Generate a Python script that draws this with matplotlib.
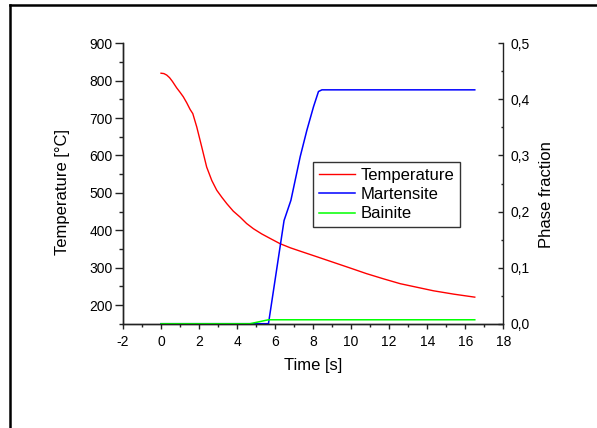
import matplotlib
matplotlib.use("Agg")
import matplotlib.pyplot as plt
from matplotlib.lines import Line2D
from matplotlib.ticker import MultipleLocator, FixedLocator, FixedFormatter

plt.rcParams['font.family'] = ['Liberation Sans', 'DejaVu Sans']
plt.rcParams['axes.unicode_minus'] = False

# ---- data ----
time_temp = [0, 0.15, 0.3, 0.45, 0.6, 0.82, 1.0, 1.17, 1.35, 1.53, 1.67, 1.88, 2.14,
             2.4, 2.67, 2.93, 3.2, 3.46, 3.8, 4.16, 4.5, 4.86, 5.3, 5.74, 6.26,
             6.8, 7.32, 8.2, 9.07, 10.0, 10.8, 11.7, 12.58, 13.5, 14.33, 15.4, 16.5]
temperature = [820, 819, 815, 808, 798, 781, 769, 757, 741, 723, 712, 676, 623,
               569, 533, 507, 488, 471, 451, 435, 418, 404, 390, 378, 364,
               353, 344, 329, 314, 298, 284, 270, 257, 247, 238, 229, 221]

time_mart = [0, 5.65, 6.47, 6.83, 7.32, 7.67, 8.02, 8.28, 8.46, 16.5]
martensite = [0, 0, 0.184, 0.22, 0.298, 0.345, 0.387, 0.414, 0.417, 0.417]

time_bain = [0, 4.68, 5.65, 16.5]
bainite = [0, 0, 0.007, 0.007]

x_ticks = [-2, 0, 2, 4, 6, 8, 10, 12, 14, 16, 18]
x_tick_labels = ['-2', '0', '2', '4', '6', '8', '10', '12', '14', '16', '18']
left_ticks = [200, 300, 400, 500, 600, 700, 800, 900]
right_ticks = [0.0, 0.1, 0.2, 0.3, 0.4, 0.5]
right_tick_labels = ['0,0', '0,1', '0,2', '0,3', '0,4', '0,5']

fig = plt.figure(figsize=(5.97, 4.28), dpi=100)
ax = fig.add_axes([123 / 597, 1 - 323.7 / 428, (503.3 - 123) / 597, (323.7 - 43.3) / 428])
ax2 = ax.twinx()

l1, = ax.plot(time_temp, temperature, color='#ff0000', lw=1.0, label='Temperature')
l2, = ax2.plot(time_mart, martensite, color='#0000ff', lw=1.1, label='Martensite')
l3, = ax2.plot(time_bain, bainite, color='#00ff00', lw=1.1, label='Bainite')

ax.set_xlim(-2, 18)
ax.set_ylim(150, 900)
ax2.set_ylim(0, 0.5)

for a in (ax, ax2):
    a.spines['top'].set_visible(False)
    for s in a.spines.values():
        s.set_linewidth(1.0)
        s.set_color('#222222')
ax.spines['right'].set_visible(False)

ax.xaxis.set_major_locator(FixedLocator(x_ticks))
ax.xaxis.set_major_formatter(FixedFormatter(x_tick_labels))
ax.xaxis.set_minor_locator(MultipleLocator(1))
ax.yaxis.set_major_locator(FixedLocator(left_ticks))
ax.yaxis.set_minor_locator(MultipleLocator(50))
ax2.yaxis.set_major_locator(FixedLocator(right_ticks))
ax2.yaxis.set_major_formatter(FixedFormatter(right_tick_labels))
ax2.yaxis.set_minor_locator(MultipleLocator(0.05))

ax.tick_params(axis='x', which='major', direction='out', length=3.6, width=1, pad=4.5, labelsize=10, color='#222222')
ax.tick_params(axis='x', which='minor', direction='out', length=2.2, width=1, color='#222222')
ax.tick_params(axis='y', which='major', direction='out', length=5.8, width=1, pad=1.5, labelsize=10, color='#222222')
ax.tick_params(axis='y', which='minor', direction='out', length=2.9, width=1, color='#222222')
ax2.tick_params(axis='y', which='major', direction='in', length=3.4, width=1, pad=5, labelsize=10, color='#222222')
ax2.tick_params(axis='y', which='minor', direction='in', length=1.7, width=1, color='#222222')

ax.set_xlabel('Time [s]', fontsize=12)
ax.set_ylabel('Temperature [°C]', fontsize=12)
ax2.set_ylabel('Phase fraction', fontsize=12)
ax.xaxis.set_label_coords(0.5, -0.122)
ax.yaxis.set_label_coords(-0.14, 0.47)
ax2.yaxis.set_label_coords(1.094, 0.46)

leg = ax2.legend(handles=[l1, l2, l3], loc='upper left', bbox_to_anchor=(0.500, 0.576),
                 borderaxespad=0, fontsize=12, frameon=True, fancybox=False,
                 handlelength=2.2, handletextpad=0.3, labelspacing=0.26,
                 borderpad=0.33)
leg.get_frame().set_edgecolor('black')
leg.get_frame().set_linewidth(1.0)

# outer border (only left and top edges visible)
fig.add_artist(Line2D([10.3 / 597, 10.3 / 597], [0, 1 - 5 / 428], color='black', lw=1.8,
                      transform=fig.transFigure))
fig.add_artist(Line2D([10.3 / 597, 1.0], [1 - 5 / 428, 1 - 5 / 428], color='black', lw=1.8,
                      transform=fig.transFigure))

fig.savefig('out.png', dpi=100)
